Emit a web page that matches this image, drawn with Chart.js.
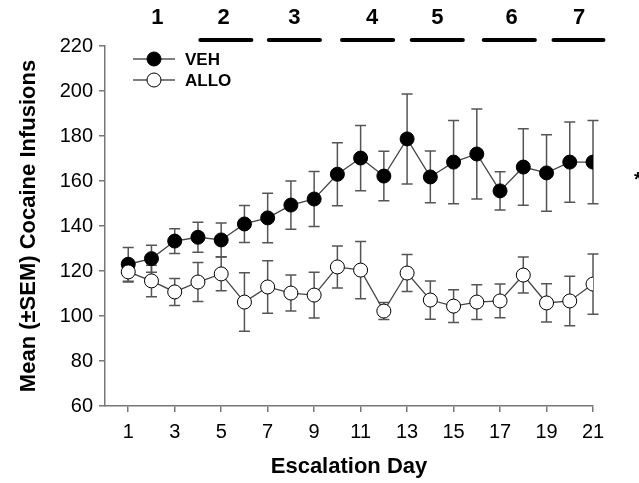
<!DOCTYPE html>
<html>
<head>
<meta charset="utf-8">
<script src="https://cdn.jsdelivr.net/npm/chart.js@4"></script>
<style>
  html, body { margin: 0; padding: 0; background: #fff; }
</style>
</head>
<body>
<canvas id="myChart" width="639" height="483"></canvas>
<script>
// escalation days and group means / SEMs
const days = [1, 2, 3, 4, 5, 6, 7, 8, 9, 10, 11, 12, 13, 14, 15, 16, 17, 18, 19, 20, 21];
const vehMean = [123, 125.5, 133.3, 135, 133.8, 140.9, 143.6, 149.3, 152, 163, 170.2, 162.2, 178.7, 161.8, 168.4, 172, 155.6, 166.2, 163.6, 168.4, 168.4];
const vehSem = [7.5, 6, 5.5, 6.7, 7.5, 8.2, 11, 10.7, 12.2, 14, 14.5, 11, 20, 11.5, 18.5, 20, 8.5, 17, 17, 17.8, 18.5];
const alloMean = [119.6, 115.6, 110.7, 115.1, 118.7, 106.2, 112.9, 110.2, 109.3, 121.8, 120.4, 102.2, 119.1, 107.1, 104.4, 106.2, 106.7, 118.2, 105.8, 106.7, 114.2];
const alloSem = [4.5, 7, 6, 8.7, 7.5, 13, 11.7, 8, 10.2, 9.3, 12.7, 3.8, 8.2, 8.5, 7.3, 7.7, 7.5, 8, 8.5, 11, 13.4];

const dayTicks = [1, 3, 5, 7, 9, 11, 13, 15, 17, 19, 21];
const yTicks = [60, 80, 100, 120, 140, 160, 180, 200, 220];

// week markers along the top (day ranges covered by each week bar)
const weekLabels = ['1', '2', '3', '4', '5', '6', '7'];
const weekLabelDay = [2.25, 5.1, 8.15, 11.5, 14.3, 17.5, 20.4];
const weekBars = [null, [4.1, 6.3], [7.05, 9.25], [10.2, 12.4], [13.2, 15.4], [16.3, 18.5], [19.3, 21.45]];

const FONT = '"Liberation Sans", Arial, sans-serif';

const errorBars = {
    id: 'errorBars',
    beforeDatasetsDraw(chart) {
        const ctx = chart.ctx;
        const y = chart.scales.y;
        ctx.save();
        ctx.strokeStyle = '#555';
        ctx.lineWidth = 1.5;
        chart.data.datasets.forEach((ds, i) => {
            const meta = chart.getDatasetMeta(i);
            meta.data.forEach((pt, j) => {
                const m = ds.data[j].y;
                const s = ds.sem[j];
                const top = y.getPixelForValue(m + s);
                const bot = y.getPixelForValue(m - s);
                ctx.beginPath();
                ctx.moveTo(pt.x, top);
                ctx.lineTo(pt.x, bot);
                ctx.moveTo(pt.x - 5.5, top);
                ctx.lineTo(pt.x + 5.5, top);
                ctx.moveTo(pt.x - 5.5, bot);
                ctx.lineTo(pt.x + 5.5, bot);
                ctx.stroke();
            });
        });
        ctx.restore();
    }
};

const weekMarks = {
    id: 'weekMarks',
    afterDraw(chart) {
        const ctx = chart.ctx;
        const x = chart.scales.x;
        ctx.save();
        ctx.fillStyle = '#000';
        ctx.font = 'bold 22px ' + FONT;
        ctx.textAlign = 'center';
        ctx.textBaseline = 'middle';
        weekLabels.forEach((lab, i) => {
            ctx.fillText(lab, x.getPixelForValue(weekLabelDay[i]), 18);
            const b = weekBars[i];
            if (b) {
                ctx.beginPath();
                ctx.lineWidth = 4;
                ctx.lineCap = 'round';
                ctx.strokeStyle = '#000';
                ctx.moveTo(x.getPixelForValue(b[0]), 40);
                ctx.lineTo(x.getPixelForValue(b[1]), 40);
                ctx.stroke();
            }
        });
        // significance mark, cut off at the right edge
        ctx.font = 'bold 20px ' + FONT;
        ctx.textAlign = 'left';
        ctx.fillText('*', 634, 180);
        ctx.restore();
    }
};

const legendMarks = {
    id: 'legendMarks',
    afterDraw(chart) {
        const ctx = chart.ctx;
        ctx.save();
        chart.data.datasets.forEach((ds, i) => {
            const yy = 59 + i * 21;
            ctx.strokeStyle = '#555';
            ctx.lineWidth = 1.3;
            ctx.beginPath();
            ctx.moveTo(133, yy);
            ctx.lineTo(175, yy);
            ctx.stroke();
            ctx.beginPath();
            ctx.arc(154, yy, 7, 0, Math.PI * 2);
            ctx.fillStyle = ds.pointBackgroundColor;
            ctx.fill();
            ctx.strokeStyle = '#000';
            ctx.lineWidth = 1;
            ctx.stroke();
            ctx.fillStyle = '#000';
            ctx.font = 'bold 17px ' + FONT;
            ctx.textAlign = 'left';
            ctx.textBaseline = 'middle';
            ctx.fillText(ds.label, 185, yy + 1);
        });
        ctx.restore();
    }
};

const toPoints = (vals) => days.map((d, i) => ({ x: d, y: vals[i] }));

const ctx = document.getElementById('myChart').getContext('2d');
new Chart(ctx, {
    type: 'line',
    data: {
        datasets: [
            {
                label: 'VEH',
                data: toPoints(vehMean),
                sem: vehSem,
                borderColor: '#444',
                borderWidth: 1.3,
                pointBackgroundColor: '#000',
                pointBorderColor: '#000',
                pointBorderWidth: 1,
                pointRadius: 7,
                order: 2,
                fill: false,
                tension: 0
            },
            {
                label: 'ALLO',
                data: toPoints(alloMean),
                sem: alloSem,
                borderColor: '#444',
                borderWidth: 1.3,
                pointBackgroundColor: '#fff',
                pointBorderColor: '#000',
                pointBorderWidth: 1,
                pointRadius: 7,
                order: 1,
                fill: false,
                tension: 0
            }
        ]
    },
    options: {
        responsive: false,
        animation: false,
        devicePixelRatio: 1,
        layout: {
            padding: { top: 46, right: 46, left: 0, bottom: 0 }
        },
        plugins: {
            legend: { display: false },
            tooltip: { enabled: false }
        },
        scales: {
            x: {
                type: 'linear',
                min: 0,
                max: 21,
                afterBuildTicks: (s) => { s.ticks = dayTicks.map(v => ({ value: v })); },
                afterFit: (s) => { s.height = 77; },
                border: { color: '#777', width: 1.5 },
                grid: { drawOnChartArea: false, color: '#777', tickLength: 6, lineWidth: 1.5 },
                ticks: {
                    color: '#000',
                    padding: 8,
                    maxRotation: 0,
                    font: { family: FONT, size: 20 }
                },
                title: {
                    display: true,
                    text: 'Escalation Day',
                    color: '#000',
                    padding: { top: 0, bottom: 3 },
                    font: { family: FONT, size: 22, weight: 'bold' }
                }
            },
            y: {
                min: 60,
                max: 220,
                afterBuildTicks: (s) => { s.ticks = yTicks.map(v => ({ value: v })); },
                afterFit: (s) => { s.width = 105; },
                border: { color: '#777', width: 1.5 },
                grid: { drawOnChartArea: false, color: '#777', tickLength: 6, lineWidth: 1.5 },
                ticks: {
                    color: '#000',
                    padding: 6,
                    font: { family: FONT, size: 20 }
                },
                title: {
                    display: true,
                    text: 'Mean (±SEM) Cocaine Infusions',
                    color: '#000',
                    padding: { top: 16, bottom: 0 },
                    font: { family: FONT, size: 22, weight: 'bold' }
                }
            }
        }
    },
    plugins: [errorBars, weekMarks, legendMarks]
});
</script>
</body>
</html>
